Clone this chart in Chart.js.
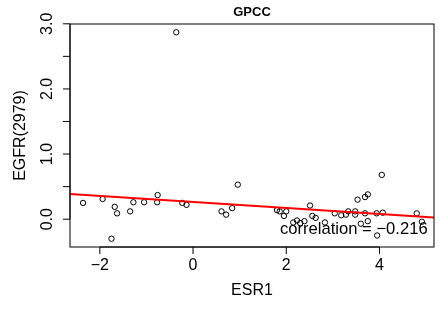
<!DOCTYPE html>
<html>
<head>
<meta charset="utf-8">
<script src="https://cdn.jsdelivr.net/npm/chart.js@4.4.1/dist/chart.umd.min.js"></script>
<style>
  html, body { margin: 0; padding: 0; background: #fff; }
  #wrap { width: 439px; height: 309px; }
</style>
</head>
<body>
<div id="wrap"><canvas id="myChart" width="439" height="309"></canvas></div>
<script>
// GPCC: ESR1 vs EGFR(2979)
const esr1 = [-2.36, -1.94, -1.68, -1.63, -1.75, -1.35, -1.28, -1.05, -0.76, -0.77,
              -0.36, -0.23, -0.14, 0.61, 0.71, 0.84, 0.96, 1.80, 1.86, 1.95,
              2.00, 2.15, 2.23, 2.30, 2.39, 2.51, 2.56, 2.63, 2.83, 3.04,
              3.18, 3.28, 3.33, 3.48, 3.48, 3.60, 3.53, 3.69, 3.75, 3.69,
              3.75, 3.94, 3.95, 4.07, 4.05, 4.80, 4.91];
const egfr = [0.25, 0.31, 0.19, 0.09, -0.30, 0.12, 0.26, 0.26, 0.37, 0.26,
              2.87, 0.25, 0.22, 0.12, 0.07, 0.17, 0.53, 0.14, 0.12, 0.05,
              0.12, -0.05, -0.02, -0.06, -0.03, 0.21, 0.05, 0.02, -0.05, 0.09,
              0.06, 0.07, 0.12, 0.12, 0.07, -0.07, 0.30, 0.34, 0.38, 0.09,
              -0.03, 0.09, -0.25, 0.10, 0.68, 0.09, -0.04];
// red fitted line, end points at the plot edges
const fitX = [-2.64, 5.17];
const fitY = [0.385, 0.025];

const xTicks = [-2, 0, 2, 4];
const xLabels = ['\u22122', '0', '2', '4'];
const yTicks = [0, 0.5, 1, 1.5, 2, 2.5, 3];
const yLabels = ['0.0', '', '1.0', '', '2.0', '', '3.0'];

const mainTitle = 'GPCC';
const xTitle = 'ESR1';
const yTitle = 'EGFR(2979)';
const corrText = 'correlation = \u22120.216';

const FONT = '"Liberation Sans", Arial, Helvetica, sans-serif';

// R-style box, axes, labels and text
const rAxes = {
    id: 'rAxes',
    afterDraw(chart) {
        const ctx = chart.ctx;
        const a = chart.chartArea;
        const x = chart.scales.x, y = chart.scales.y;
        ctx.save();
        ctx.strokeStyle = '#000';
        ctx.lineWidth = 1;
        ctx.strokeRect(a.left, a.top, a.right - a.left, a.bottom - a.top);

        // y axis
        ctx.beginPath();
        ctx.moveTo(a.left, y.getPixelForValue(yTicks[0]));
        ctx.lineTo(a.left, y.getPixelForValue(yTicks[yTicks.length - 1]));
        yTicks.forEach(v => {
            const py = y.getPixelForValue(v);
            ctx.moveTo(a.left, py);
            ctx.lineTo(a.left - 7, py);
        });
        // x axis
        ctx.moveTo(x.getPixelForValue(xTicks[0]), a.bottom);
        ctx.lineTo(x.getPixelForValue(xTicks[xTicks.length - 1]), a.bottom);
        xTicks.forEach(v => {
            const px = x.getPixelForValue(v);
            ctx.moveTo(px, a.bottom);
            ctx.lineTo(px, a.bottom + 7);
        });
        ctx.stroke();

        ctx.fillStyle = '#000';
        ctx.textAlign = 'center';
        ctx.textBaseline = 'middle';
        ctx.font = '16px ' + FONT;
        xTicks.forEach((v, i) => {
            ctx.fillText(xLabels[i], x.getPixelForValue(v), 266);
        });
        yTicks.forEach((v, i) => {
            if (!yLabels[i]) return;
            ctx.save();
            ctx.translate(47.5, y.getPixelForValue(v));
            ctx.rotate(-Math.PI / 2);
            ctx.fillText(yLabels[i], 0, 0);
            ctx.restore();
        });

        // axis titles
        ctx.fillText(xTitle, (a.left + a.right) / 2, 291);
        ctx.save();
        ctx.translate(21, (a.top + a.bottom) / 2);
        ctx.rotate(-Math.PI / 2);
        ctx.fillText(yTitle, 0, 0);
        ctx.restore();

        // main title
        ctx.font = 'bold 13px ' + FONT;
        ctx.fillText(mainTitle, (a.left + a.right) / 2, 12.5);

        // correlation text
        ctx.font = '16.6px ' + FONT;
        ctx.fillText(corrText, x.getPixelForValue(3.45), y.getPixelForValue(-0.15));
        ctx.restore();
    }
};

const ctx = document.getElementById('myChart').getContext('2d');
const chart = new Chart(ctx, {
    type: 'scatter',
    data: {
        datasets: [{
            type: 'line',
            data: fitX.map((v, i) => ({x: v, y: fitY[i]})),
            showLine: true,
            borderColor: '#ff0000',
            borderWidth: 2,
            pointRadius: 0,
            fill: false,
            order: 0
        }, {
            data: esr1.map((v, i) => ({x: v, y: egfr[i]})),
            pointStyle: 'circle',
            pointRadius: 2.7,
            borderWidth: 1,
            borderColor: '#000',
            backgroundColor: 'rgba(0,0,0,0)',
            order: 1
        }]
    },
    options: {
        responsive: false,
        animation: false,
        layout: { padding: { left: 70, right: 1, top: 24, bottom: 62 } },
        plugins: { legend: { display: false }, tooltip: { enabled: false } },
        scales: {
            x: { type: 'linear', display: false, min: -2.64, max: 5.17 },
            y: { type: 'linear', display: false, min: -0.427, max: 2.997 }
        }
    },
    plugins: [rAxes]
});
</script>
</body>
</html>
